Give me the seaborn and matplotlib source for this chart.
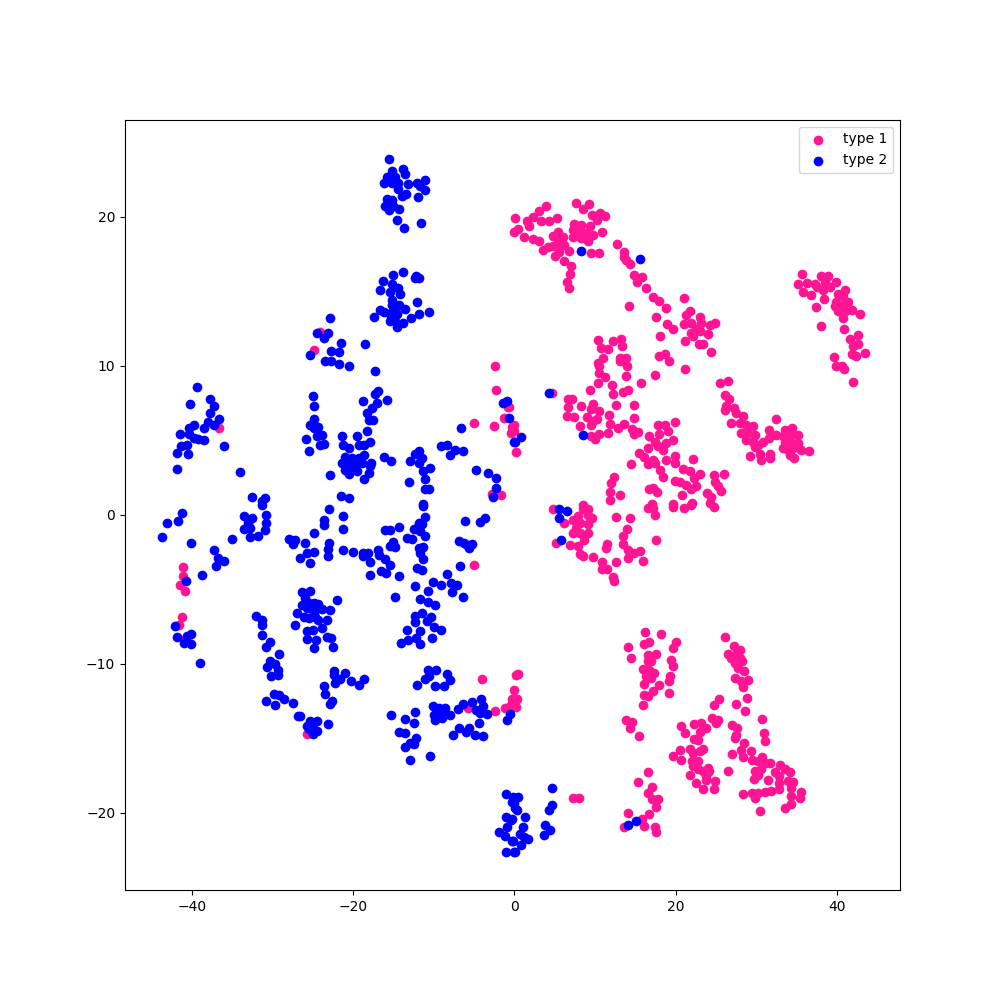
import matplotlib
matplotlib.use("Agg")
import matplotlib.pyplot as plt
import seaborn as sns

type1_labels = ["type 1", "type 2"]

type1_points = [
(-24.9,11.05),(-24.1,12.25),(-36.65,5.85),(-41.05,-3.5),(-41.05,-4.1),(-41.5,-4.75),(-40.8,-5.1),(-41.2,-6.9),(-41.65,-7.4),(-40.95,-8.4),
(-5,-3.4),(-25.75,-14.7),(-4,-11.05),(-5.75,-12.95),(-2.4,-13.2),(0.15,-10.75),(-0.05,-11.8),(-0.25,-12.4),(-0.9,-13),(-0.25,-12.85),(-0.05,-12.5),(-0.45,-13),(-1.1,-12.95),(0.3,-12.4),(0.2,-12.9),(-0.4,-12.75),(0.5,-10.7),
(7.25,-19.05),(8,-19.05),(16.55,-17.3),(15.3,-17.95),(17.05,-18.3),(16.55,-18.7),(17.8,-19.1),(17.1,-19.1),(17.6,-19.6),(14.1,-20),(16.75,-20.1),(15.8,-20.45),(16.05,-20.9),(13.6,-21),(17.45,-21),(17.6,-21.3),
(16.2,-7.9),(18.2,-8),(16.65,-8.55),(16.15,-8.65),(20.05,-8.55),(19.65,-8.95),(14.05,-8.9),(14.45,-9.6),(17.6,-9.35),(16.55,-9.4),(16.55,-9.85),(17,-9.85),(19.4,-9.75),(19.65,-10.15),(15.95,-10.35),(16.75,-10.45),(16.35,-10.85),(17.3,-10.6),(17,-10.95),(19.3,-10.85),(19.25,-11.2),(16.05,-11.4),(17.95,-11.45),(17.2,-11.85),(16.05,-12.1),(16.6,-12.15),(19.15,-12),(15.95,-12.8),
(13.9,-13.8),(14.6,-13.9),(14.35,-14.3),(15.45,-14.85),
(26.1,-8.2),(27.2,-8.85),(27.95,-9.1),(26.5,-9.35),(27.35,-9.4),(26.9,-9.6),(27.95,-9.6),(28.3,-9.85),(27.35,-9.95),(27.75,-10.3),(28.55,-10.5),(27.4,-10.95),(28.15,-11.2),(28.95,-11.1),(28.4,-11.55),
(25.4,-12.35),(24.75,-12.75),(27.5,-12.7),(28.85,-12.3),(28.6,-13.2),(30.7,-13.7),(31,-14.65),(31.1,-15.2),(24.5,-13.65),(25.25,-13.8),(25,-14),
(20.65,-14.2),(22.25,-14.05),(23.2,-14),(23.75,-14.3),(21.2,-14.65),(23.05,-14.6),(22.25,-15.05),(22.75,-15.15),(27,-14.15),(27.6,-14.3),(27.55,-14.8),(27.35,-15),
(28.5,-15.35),(28.15,-15.8),(29.35,-15.85),(27,-16.05),(28.4,-16.3),(20.6,-15.8),(21.75,-15.75),(23.4,-15.75),(23,-15.9),(22.15,-16),(19.7,-16.2),(20.65,-16.45),(22.05,-16.55),(22.75,-16.55),(22.15,-16.9),(24,-17),(22.75,-17.1),(23.4,-17.2),(24.2,-17.2),(21.8,-17.45),(23.8,-17.55),(22.55,-18),(23.8,-17.8),(24.9,-17.85),(23.4,-18.45),(24.75,-18.4),(26.5,-17.2),
(29.55,-16.5),(30.7,-16.25),(30.2,-16.55),(31.05,-16.65),(31.75,-16.65),(29.9,-17.2),(30.65,-17.1),(30.25,-17.45),(29.75,-17.75),(33,-16.8),(32.3,-17.3),(33.55,-17.1),(34.15,-17.3),(31.5,-17.8),(32.9,-17.55),(34.6,-17.95),(34,-17.9),(32.85,-18),(34.35,-18.35),(32.85,-18.45),(31.9,-18.55),(31.15,-18.65),(30.25,-18.7),(29.55,-18.7),(28.35,-18.75),(29.9,-19.05),(35.55,-18.6),(35.5,-19),(34.35,-18.9),(34.35,-19.4),(33.55,-19.7),(30.5,-19.9),
(4.75,0.35),(5.2,-1.9),(8.5,0.4),(9.1,0.35),(6.2,-0.55),(7.85,-0.1),(7.25,-0.35),(9.1,0),(9.65,-0.25),(8.1,-0.55),(9.1,-0.65),(7.65,-0.9),(7.25,-1.25),(8.1,-1.25),(9.1,-1.25),(8.7,-1.7),(7.85,-2.1),(6.85,-2.05),(8.2,-2.65),(8.55,-2.75),(9.75,-2.85),(10.85,-3.15),(10.85,-3.65),(11.5,-3.65),(12.2,-4.2),(12.35,-4.45),(12.6,-3.15),(11.5,-2),(11.35,-2.25),(12.6,-0.15),(14.35,-0.2),(13.95,-0.95),(13.45,-1.4),(13.45,-2),(14.05,-2.35),(14.9,-2.55),(15.55,-2.45),(14.05,-2.9),(15.95,-3.1),(17.55,-1.7),(16.55,0.45),(17.2,0.45),(17.45,0),(19.65,0.5),(21.05,0.45),(21.95,0.65),(24.75,0.5),
(3.9,20.75),(3.1,20.4),(2.35,20),(0.05,19.95),(5.25,19.9),(1.55,19.7),(3.3,19.7),(4.25,19.7),(1.85,19.4),(0.4,19.2),(0,19),(1.15,18.65),(2.3,18.5),(3.05,18.4),
(5.4,19),(4.75,18.7),(6,18.65),(5.4,18.45),(4.75,18.05),(5.6,18.05),(6.2,18.1),(3.5,17.8),(4.15,17.95),(6.75,17.7),(5.6,17.65),(5,17.35),(6.2,17),(7.05,16.7),(6.85,16.15),(6.55,15.65),(6.75,15.2),
(7.65,20.9),(8.5,20.55),(9.25,20.85),(10.65,20.25),(9.65,20.15),(11.25,20.05),(10.25,19.8),(7.35,19.55),(8.3,19.45),(9.35,19.35),(7.25,19.1),(8.05,19),(8.9,18.9),(10.85,18.95),(9.75,18.8),(7.25,18.65),(8.3,18.55),(9.1,18.35),(9.55,17.55),(10.45,17.6),
(12.7,18.2),(13.6,17.65),(13.6,17.3),(13.9,17.1),(14.4,16.85),(14.8,16.1),(15.85,15.95),(15.25,15.6),(16.3,15.25),(17.2,14.6),(18,14.35),(14.2,14),(18.8,13.85),(17.55,13.3),(21.05,14.55),(21.85,13.7),(21.3,13.4),(23,13.25),(19,12.8),(19.65,12.45),(21.1,12.8),(21.95,12.85),(22.55,12.5),(21.95,12.2),(23.2,12.85),(24.25,12.75),(24.95,12.85),(24,12.1),(22.15,12),(23,12.3),(18.05,12),(21.15,11.65),(22.9,11.45),(23.4,11.45),(24.35,10.9),(17.9,10.65),(18.7,10.8),(19.15,10.3),(21.2,9.75),(17.45,9.35),
(10.35,11.7),(12.2,11.65),(13.25,11.8),(13.35,11.3),(10.75,11.2),(11.6,11.1),(10.95,10.5),(10.35,10.2),(13.05,10.5),(13.85,10.5),(13.05,10.35),(13.95,10),(10.5,9.95),(10.5,9.5),(11.2,9.25),(13.85,9.3),(10.35,8.85),(15.7,8.85),(12.1,8.7),(9.35,8.35),(13.45,8.25),(14.1,8.35),(12.2,8.1),(4.7,8.15),
(6.65,7.75),(7.15,7.75),(6.65,7.2),(8.25,7.3),(9.75,7.45),(12.6,7.35),(14.85,7.35),(9.55,7.1),(10.55,6.95),(6.55,6.6),(7.35,6.55),(9.05,6.55),(11.75,6.7),(10.25,6.45),(9.75,6.3),(14.85,6.5),(9.55,6.05),(8.15,5.95),(11.9,6.1),(12.85,5.85),(13.65,6.1),(14.6,5.75),(15.35,5.55),(14.85,5.4),(11.6,5.5),(10.5,5.45),(9.55,5.25),(10.05,5.05),
(17.8,6.05),(18.65,6.05),(19.9,6.25),(19.05,5.6),(17.95,5.45),(16.7,5.3),(19.65,5),(17.4,4.85),(18.85,4.8),(17.8,4.6),(18.5,4.35),(16.55,4.45),(15.45,4.15),(16.15,3.85),(17.2,3.7),(16.55,3.4),(14.45,3.4),(17.5,3.45),(18.85,3.7),(19.9,3.95),(19.9,3.5),(22.15,3.75),(18.1,3),(20.9,3.1),(21.8,2.9),(18.5,2.55),(23.05,2.7),(24.8,2.65),(26,2.7),(19.9,2.25),(20.6,2.2),(22.35,2.45),(21.35,2),(22.6,1.9),(24.95,2.2),(21.95,1.7),(25.25,1.9),(25.65,1.6),(23.9,1.45),(20.8,1.35),(24.45,1.2),(22.05,0.8),(24.25,0.8),(12.35,2.5),(12,2.1),(11.9,1.5),(11.9,1),(13.1,1.3),(16.7,1.7),(17.2,1.8),(17.75,1.55),(17.1,0.75),(19.65,0.75),(8.5,0.65),
(25.5,8.85),(26.55,9),(26.1,8.05),(26.6,7.8),(26.3,7.3),(27.2,7.15),(26.2,7),(27.55,6.8),(28.35,6.6),(26.9,6.15),(27.95,6.15),(28.8,6.05),(29.6,5.95),(28.1,5.5),(29,5.5),(29.8,5.35),(28.7,5),(29.6,4.9),(30.25,4.7),(30.85,4.85),(29.8,4.55),(31.65,5.7),(32.45,6.4),(32.45,5.35),(31.65,5.15),(29.3,3.95),(30.5,4.05),(30.65,3.7),(31.7,4.05),(31.7,3.8),
(33.55,5.7),(34.5,5.8),(35.2,5.35),(33.35,5.25),(34.15,5.35),(33.55,4.9),(34.35,4.9),(35.2,4.8),(33.35,4.45),(34.55,4.45),(35.6,4.35),(36.5,4.25),(34.15,4),(34.7,3.8),(33.95,4.35),
(35.75,16.15),(35.2,15.5),(38,16.05),(38.9,16),(39.95,15.65),(36.35,15.55),(37.25,15.5),(38.5,15.65),(35.8,14.95),(36.85,14.75),(37.5,15.3),(38.3,15.1),(39.15,15.3),(41,15.1),(40.15,14.85),(38.4,14.45),(40.8,14.65),(39.95,14.3),(41.4,14.3),(40.8,14.1),(39.75,14),(41.85,13.75),(40.15,13.65),(41,13.65),(40.8,13.2),(42.85,13.45),(37.45,13.95),(38.05,12.65),(40.95,12.45),(42.65,12.05),(41.7,11.8),(42.65,11.45),(42.05,11.3),(41.85,10.8),(42.45,10.65),(43.55,10.85),(39.65,10.6),(39.95,10),(40.6,10),(40.95,9.75),(42.05,8.9),
(-2.4,10),(-2.3,8.4),(-5,6.15),(-2.55,5.95),(-1.3,6.5),(-0.75,7.25),(-1.65,1.3),(-2.75,1.4),(-0.25,5.9),(-0.45,5.5),(-0.05,5.6),(0.25,4.2),(-0.6,7.25),(0,6),(-0.2,5.6),
]

type2_points = [
(-15.6,23.9),(-15.2,23.1),(-13.85,23.2),(-13.6,22.85),(-15.8,22.65),(-16.2,22.25),(-15.4,22.5),(-14.75,22.7),(-15.2,22.25),(-14.4,22.25),(-14.4,21.9),(-13.2,22.2),(-12.1,22.3),(-11.1,22.45),(-11.65,22.05),(-11.1,21.8),(-13.9,21.4),(-13.4,21.5),(-11.9,21.3),(-15.8,21.2),(-15.6,21),(-15.2,21.1),(-16,20.7),(-15.6,20.45),(-15,20.7),(-14.35,20.55),(-15.4,20.7),(-14.6,19.8),(-11.6,19.6),(-13.7,19.25),
(-13.85,16.3),(-15,16.1),(-12.15,16.05),(-11.8,15.9),(-12.3,15.9),(-16.35,15.7),(-15.2,15.5),(-14.4,15.2),(-16.7,15.1),(-15.4,14.95),(-14.15,14.8),(-15.2,14.4),(-12.1,14.3),(-15.2,14.1),(-14.35,14.1),(-13.6,13.8),(-16.65,13.75),(-16.2,13.6),(-15,13.75),(-14.55,13.5),(-15.4,13.5),(-11.85,13.5),(-10.6,13.6),(-17.45,13.25),(-12.85,13.2),(-15.4,13),(-14.85,13),(-13.85,12.85),(-14.6,12.6),
(-22.9,13.2),(-24.5,12.2),(-23.15,12.2),(-23.65,11.85),(-21.5,11.55),(-18.55,11.45),(-22.75,11),(-21.8,10.9),(-25.3,10.75),(-23.45,10.35),(-22.75,10.3),(-21.8,10.1),(-20.55,9.95),(-17.3,9.65),
(-39.4,8.6),(-37.7,7.8),(-40.2,7.4),(-37.3,7.3),(-37.7,6.8),(-36.65,6.4),(-38.05,6.2),(-37.2,6.05),(-39.7,6.05),(-40.35,5.85),(-38.55,5.85),(-41.45,5.4),(-40.35,5.4),(-39.8,5.15),(-39.2,5.05),(-38.5,5),(-40.65,4.7),(-41.35,4.6),(-36,4.6),(-41.8,4.15),(-40.45,4.05),(-41.9,3.1),(-34,2.85),
(-32.5,1.2),(-30.95,1.15),(-31.3,0.9),(-41.25,0.1),(-43.15,-0.55),(-41.7,-0.4),(-43.65,-1.5),(-40.05,-1.9),(-35,-1.65),(-37.2,-2.35),(-36.7,-2.9),(-36,-3.1),(-37,-3.45),(-38.7,-4.05),(-40.7,-4.45),
(-42.05,-7.45),(-40.15,-8),(-40.55,-8.15),(-41.8,-8.2),(-40.95,-8.6),(-40.15,-8.7),(-39.05,-9.95),
(-33.5,-0.1),(-32.55,-0.2),(-33,-0.55),(-33.5,-0.95),(-32.8,-0.9),(-32.85,-1.5),(-31.75,-1.45),(-30.9,-1),(-30.85,-0.55),(-30.85,0),(-31.3,0.65),
(-28,-1.65),(-27.25,-1.7),(-27.5,-2),(-26,-1.9),(-24.9,-1.25),(-23.6,-0.35),(-23.65,-0.7),(-23,0.4),(-21.3,-0.1),(-21.2,-0.95),(-23,-1.9),(-23.1,-2.3),(-23.15,-2.75),(-21.3,-2.35),(-24.85,-2.5),(-25.75,-2.6),(-26.65,-2.9),(-25.4,-3.25),
(-20,-2.5),(-18.8,-2.55),(-18.8,-2.75),(-18.1,-2.6),(-17.95,-3.2),(-16.85,-2.4),(-16.75,-2.7),(-16.1,-3),(-15.4,-3.4),(-16.55,-3.8),(-15.9,-3.9),(-17.95,-4.05),(-14.35,-4.1),
(-16.1,-1.05),(-15.4,-1.05),(-14.35,-0.85),(-15,-1.85),(-15.4,-2.1),(-14.85,-2.15),
(-13.3,-1.55),(-12.7,-1.65),(-12.5,-0.95),(-11.85,-0.55),(-11.45,-0.65),(-12.05,-0.9),(-11.65,-1.1),(-11.05,-1.4),(-11.05,-0.15),(-11.35,0.6),
(-11.85,-2.25),(-11.3,-2.15),(-11.65,-2.6),(-11.3,-3),(-12.05,-3.6),(-11.45,-3.7),
(-6.15,-0.4),(-4.3,-0.5),(-3.6,-0.2),(-6.9,-1.75),(-6.3,-1.9),(-5.65,-2.25),(-5.25,-1.95),(-5.85,-2.05),(-6.75,-3.45),
(-8.4,-3.95),(-10.15,-4.5),(-9.15,-4.7),(-7.85,-4.6),(-7.15,-4.7),(-7.7,-5.2),(-6.4,-5.55),(-12.35,-4.8),(-10.75,-5.1),(-14.85,-5.55),(-11.75,-5.65),(-10.75,-5.85),(-9.85,-6.05),
(-11.45,-6.6),(-12.3,-6.8),(-10.35,-6.85),(-10.8,-7.15),(-12.35,-7.2),(-10,-7.55),(-9.15,-7.75),(-13.3,-7.75),(-11.75,-7.8),(-13.2,-8.4),(-12.2,-8.3),(-14.1,-8.6),(-11.75,-8.7),(-10.25,-8.3),
(-26.4,-5.2),(-25.4,-5.15),(-22.05,-5.7),(-25.95,-5.6),(-26.35,-6.05),(-25.5,-5.95),(-24.9,-5.95),(-24.3,-6),(-25.75,-6.25),(-24.7,-6.25),(-23.85,-6.35),(-22.9,-6.4),(-27,-6.6),(-26.15,-6.85),(-25.5,-6.95),(-24.7,-6.85),(-24.3,-7.05),(-23.3,-7.1),(-24.9,-6.6),(-27.25,-7.4),(-23.85,-7.6),(-25.75,-7.8),(-25,-7.75),(-25.75,-8.35),(-24.6,-8.4),(-23.25,-8.2),(-22.7,-8.3),(-24.8,-8.95),(-22.55,-8.9),
(-32.1,-6.8),(-31.25,-7.05),(-31.35,-7.4),(-31.35,-8.05),(-30.25,-8.55),(-30.85,-8.9),(-29.25,-9.35),(-30.25,-9.8),(-29.65,-10),(-30.7,-10.2),(-29.35,-10.45),(-29.35,-10.75),(-30.15,-10.8),
(-29.85,-12.05),(-29.25,-12.1),(-28.55,-12.35),(-30.75,-12.5),(-29.65,-12.75),(-27.5,-12.65),(-26.85,-13.55),(-26.6,-13.55),
(-25.3,-13.85),(-24.5,-13.85),(-25.75,-14.2),(-25.1,-14.2),(-24.5,-14.55),(-25.1,-14.55),(-25.5,-14.4),(-25,-14.75),(-23.15,-14.05),
(-22.4,-10.5),(-22.4,-10.75),(-21.05,-10.6),(-21.6,-11),(-22.2,-11.3),(-20.3,-11.15),(-19.3,-11.45),(-18.7,-11),(-23.55,-11.5),(-23.45,-12.05),(-22.6,-12.5),(-22.9,-12.7),
(-10.75,-10.4),(-9.7,-10.4),(-8.4,-10.7),(-7.95,-11.1),(-10.6,-10.85),(-11.1,-11.05),(-12.1,-11.45),(-9.9,-11.5),(-8.75,-11.5),
(-10.15,-12.85),(-9.35,-12.95),(-8.55,-12.95),(-9.6,-13.2),(-8.75,-13.3),(-8,-13.45),(-10,-13.45),(-9,-13.65),(-9.8,-13.8),(-7,-13.05),(-6.4,-12.7),(-5.25,-12.55),(-4.15,-12.35),(-3.9,-12.85),(-4.8,-13.1),(-4.2,-13.3),(-3.35,-13.35),(-4.4,-14),
(-15.35,-13.45),(-12.35,-13.25),(-13.6,-13.75),(-12.5,-14),(-14.35,-14.6),(-13.6,-14.65),(-12.2,-15),(-12.9,-15.3),(-12.45,-15.4),(-13.6,-15.6),(-13,-16.45),(-10.5,-16.2),
(-7.65,-14.8),(-6.9,-14.35),(-6.05,-14.6),(-5.65,-14.3),(-4.9,-14.8),(-3.85,-14.85),
(-0.55,-13.4),(-0.9,-13.8),
(-1.05,-18.75),(-0.25,-19.3),(0.05,-19.7),(-1.05,-20.3),(-0.35,-20.5),(-0.9,-20.95),(-1.85,-21.3),(-1.2,-21.6),(-0.25,-21.9),(-1.05,-22.65),(-0.05,-22.65),
(-0.2,-18.95),(0.5,-18.95),(0,-19.35),(0.3,-19.8),(-0.3,-20.4),(1.3,-20.3),(1.05,-21),(0.65,-21.45),(1.75,-21.75),(1.25,-21.65),(-0.2,-21.9),(0.85,-22.15),(0.1,-22.65),
(4.65,-18.35),(4.7,-19.5),(4.25,-19.8),(3.75,-20.85),(4.45,-21.2),(3.65,-21.5),(14.1,-20.85),(15.05,-20.6),
(5.6,0.4),(6.5,0.25),(5.6,-0.2),(5.75,-1.7),(8.25,17.7),(15.55,17.2),(4.25,8.15),(8.5,5.35),
(-1.45,7.5),(-0.9,7.6),(-0.7,6.5),(-0.05,4.85),(0.85,5.2),(0.1,4.85),(-6.65,5.8),
(-25,8),(-24.9,7.3),(-24.9,6.45),(-25.3,6),(-24.35,5.9),(-24.9,5.8),(-23.85,5.35),(-24.5,5.25),(-25.9,5.05),(-24.15,4.7),(-23.6,4.75),(-25.5,4.3),
(-16.9,8.3),(-17.3,8.1),(-15.85,7.7),(-18.75,7.6),(-17,7.5),(-17.65,7.15),(-18.3,6.85),(-18.05,6.35),(-17.55,6.35),(-18.3,5.6),
(-21.4,5.25),(-19.55,5.25),(-21.2,4.7),(-20.45,4.45),(-19.3,4.7),(-18.7,4.7),(-17.85,4.85),(-21,3.9),(-20.15,3.8),(-19.3,3.8),(-18.7,4),(-21.4,3.45),(-20.55,3.45),(-19.7,3.45),(-18.9,3.45),(-21,3),(-20.15,3.1),(-19.55,2.9),(-20.45,2.7),(-17.8,3.5),(-17.85,3.25),(-18.05,2.8),(-18.7,2.4),(-22.9,2.65),
(-16.2,3.85),(-15.3,3.6),(-11.85,4.25),(-12.35,4.1),(-11.45,3.8),(-12.9,3.6),(-11.85,3.45),(-10.5,3.15),(-11.3,2.9),(-11.05,2.4),(-13.1,2.2),(-11.1,1.7),(-10.6,1.75),
(-9.05,4.6),(-8.35,4.7),(-8,4),(-7.4,4.35),(-6.35,4.25),(-4.8,3),(-3.3,2.8),(-2.3,2.45),(-2.3,1.8),(-2.65,1.2),
(-21.55,1.25),(-20.45,1.1),(-11.35,0.7),
]

type1_x = [p[0] for p in type1_points]
type1_y = [p[1] for p in type1_points]
type2_x = [p[0] for p in type2_points]
type2_y = [p[1] for p in type2_points]

fig, ax = plt.subplots(figsize=(10, 10), dpi=100)
sns.scatterplot(x=type1_x, y=type1_y, color="#FF1493", s=49, linewidth=0,
                label=type1_labels[0], ax=ax)
sns.scatterplot(x=type2_x, y=type2_y, color="#0000FF", s=49, linewidth=0,
                label=type1_labels[1], ax=ax)
ax.set_xlim(-48.3, 47.85)
ax.set_ylim(-25.2, 26.5)
ax.set_xticks([-40, -20, 0, 20, 40])
ax.set_yticks([-20, -10, 0, 10, 20])
ax.legend(loc="upper right")
fig.savefig("out.png", dpi=100)
